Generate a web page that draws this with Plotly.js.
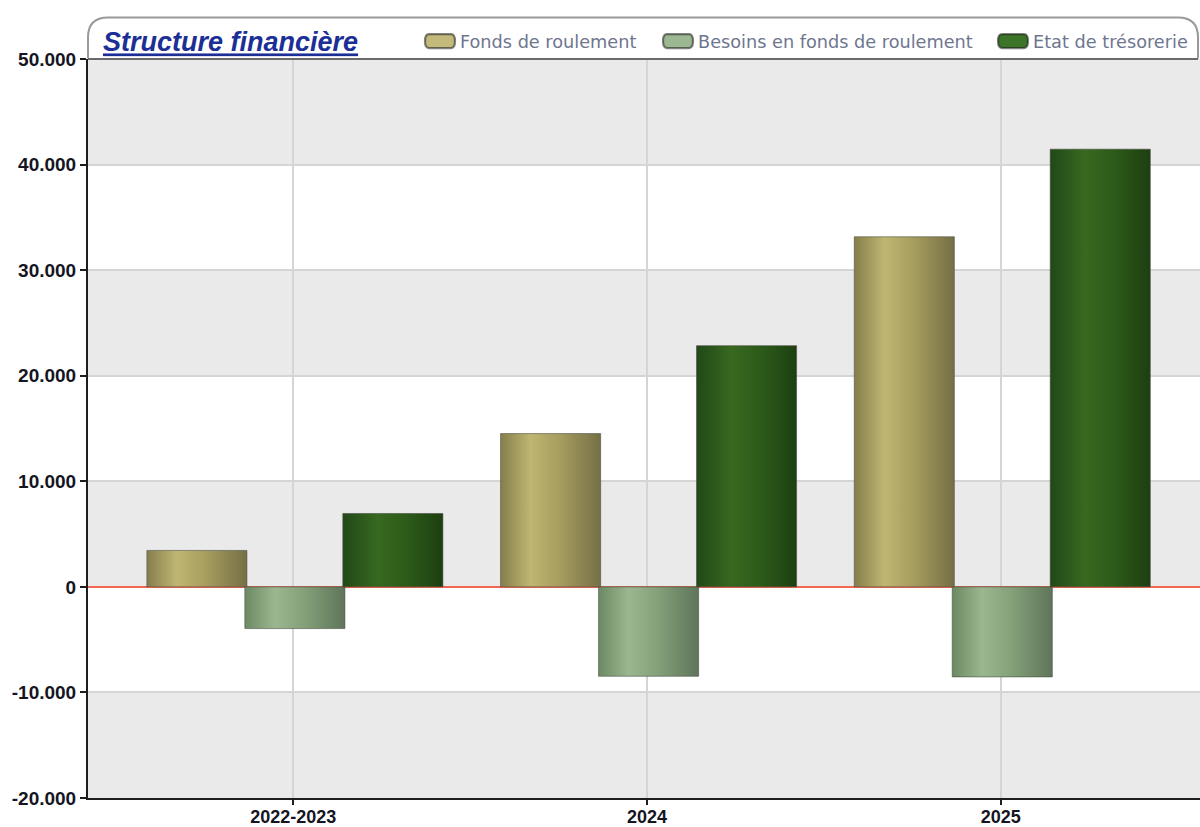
<!DOCTYPE html>
<html>
<head>
<meta charset="utf-8">
<script src="https://cdn.plot.ly/plotly-3.0.1.min.js"></script>
<style>html,body{margin:0;padding:0;background:#fff;}#chart{width:1200px;height:827px;}</style>
</head>
<body>
<div id="chart"></div>
<script>
// ---- data ----
const categories = ['2022-2023', '2024', '2025'];
const seriesNames = ['Fonds de roulement', 'Besoins en fonds de roulement', 'Etat de trésorerie'];
const fondsRoulement = [3450, 14520, 33160];
const besoinsFonds = [-3950, -8470, -8530];
const etatTresorerie = [6950, 22850, 41460];
const yTickVals = [-20000, -10000, 0, 10000, 20000, 30000, 40000, 50000];
const yTickText = ['-20.000', '-10.000', '0', '10.000', '20.000', '30.000', '40.000', '50.000'];
const chartTitle = 'Structure financière';

// ---- geometry helpers (pixels -> paper) ----
const W = 1200, H = 827, ML = 88, MR = 0, MT = 58.5, MB = 28.5;
const PW = W - ML - MR, PH = H - MT - MB;
const px = x => (x - ML) / PW;
const py = y => (H - MB - y) / PH;

const baseColors = ['#c2b97a', '#9cb892', '#3c7527'];
const grads = [
  [['0%', '#857e4c'], ['30%', '#bfb672'], ['60%', '#a59c5e'], ['100%', '#756f45']],
  [['0%', '#6d8963'], ['30%', '#9ab790'], ['60%', '#83a079'], ['100%', '#5f755a']],
  [['0%', '#224818'], ['35%', '#37691f'], ['65%', '#2c5a19'], ['100%', '#1d3f12']]
];
const barWidth = 0.283;
const offsets = [-0.414, -0.137, 0.140];
const values = [fondsRoulement, besoinsFonds, etatTresorerie];
const legendIds = ['legend', 'legend2', 'legend3'];
const legendX = [420, 658, 993];

const traces = values.map((v, i) => ({
  type: 'bar',
  name: seriesNames[i],
  x: categories,
  y: v,
  width: barWidth,
  offset: offsets[i],
  legend: legendIds[i],
  marker: { color: baseColors[i], line: { color: 'rgba(70,70,60,0.55)', width: 1 } },
  hoverinfo: 'none'
}));

// alternating hatched bands
const shapes = [];
for (let i = 0; i < yTickVals.length - 1; i++) {
  if (i % 2 === 0) {
    shapes.push({ type: 'rect', layer: 'below', xref: 'paper', yref: 'y', x0: 0, x1: 1,
      y0: yTickVals[i], y1: yTickVals[i + 1], fillcolor: '#eaeaea', line: { width: 0 } });
  }
}
// header frame
shapes.push({
  type: 'path', xref: 'paper', yref: 'paper', layer: 'above',
  path: `M${px(88)},${py(58)} L${px(88)},${py(37)} Q${px(88)},${py(17)} ${px(108)},${py(17)} ` +
        `L${px(1178)},${py(17)} Q${px(1198)},${py(17)} ${px(1198)},${py(37)} L${px(1198)},${py(58)}`,
  line: { color: '#9a9a9a', width: 2 }
});
// top border of plot area
shapes.push({ type: 'line', xref: 'paper', yref: 'paper', x0: 0, x1: px(1198), y0: 1, y1: 1,
  line: { color: '#6a6a6a', width: 2 }, layer: 'above' });

const legendBase = {
  orientation: 'h', xanchor: 'left', yanchor: 'middle', y: py(41),
  bgcolor: 'rgba(0,0,0,0)', borderwidth: 0,
  font: { family: 'DejaVu Sans', size: 17.7, color: '#6e7690' }
};

const tickFont = { family: 'Liberation Sans', size: 19, color: '#15151f', weight: 'bold' };

const layout = {
  width: W, height: H,
  margin: { l: ML, r: MR, t: MT, b: MB, pad: 0 },
  paper_bgcolor: '#ffffff', plot_bgcolor: '#ffffff',
  title: {
    text: '<b><i><u>' + chartTitle + '</u></i></b>',
    x: 103 / W, xref: 'container', xanchor: 'left',
    y: 1 - 42 / H, yref: 'container', yanchor: 'middle',
    font: { family: 'Liberation Sans', size: 27, color: '#1b2f96' }
  },
  showlegend: true,
  legend: Object.assign({}, legendBase, { x: px(legendX[0]) }),
  legend2: Object.assign({}, legendBase, { x: px(legendX[1]) }),
  legend3: Object.assign({}, legendBase, { x: px(legendX[2]) }),
  barmode: 'overlay',
  xaxis: {
    type: 'category', range: [-0.5804, 2.5635],
    showgrid: true, gridcolor: '#d5d5d5', gridwidth: 2,
    showline: true, linecolor: '#1e1e1e', linewidth: 2,
    ticks: 'outside', ticklen: 5, tickwidth: 2, tickcolor: '#1e1e1e',
    ticklabelstandoff: -4,
    tickfont: Object.assign({}, tickFont, { size: 18 }),
    fixedrange: true, zeroline: false
  },
  yaxis: {
    range: [-20000, 50000],
    tickmode: 'array', tickvals: yTickVals, ticktext: yTickText,
    showgrid: true, gridcolor: '#d5d5d5', gridwidth: 2,
    zeroline: true, zerolinecolor: '#f36652', zerolinewidth: 2,
    showline: true, linecolor: '#1e1e1e', linewidth: 2,
    ticks: 'outside', ticklen: 6, tickwidth: 2, tickcolor: '#1e1e1e',
    tickfont: tickFont,
    fixedrange: true
  },
  shapes: shapes,
  hovermode: false
};

const NS = 'http://www.w3.org/2000/svg';
function decorate(gd) {
  const svg = gd.querySelector('.main-svg');
  if (!svg) return;
  if (!document.getElementById('customGrads')) {
    const defs = document.createElementNS(NS, 'defs');
    defs.setAttribute('id', 'customGrads');
    grads.forEach((g, i) => {
      const lg = document.createElementNS(NS, 'linearGradient');
      lg.setAttribute('id', 'barGrad' + i);
      lg.setAttribute('x1', '0'); lg.setAttribute('y1', '0');
      lg.setAttribute('x2', '1'); lg.setAttribute('y2', '0');
      g.forEach(s => {
        const st = document.createElementNS(NS, 'stop');
        st.setAttribute('offset', s[0]); st.setAttribute('stop-color', s[1]);
        lg.appendChild(st);
      });
      defs.appendChild(lg);
    });
    svg.insertBefore(defs, svg.firstChild);
  }
  gd.querySelectorAll('.barlayer .trace').forEach((t, i) => {
    t.querySelectorAll('path').forEach(p => { p.style.fill = 'url(#barGrad' + (i % 3) + ')'; });
  });
  legendIds.forEach((id, i) => {
    const lg = gd.querySelector('g.' + id);
    if (!lg) return;
    lg.querySelectorAll('.legendpoints path').forEach(p => {
      p.setAttribute('d', 'M-11,-7H11Q15,-7 15,0Q15,7 11,7H-11Q-15,7 -15,0Q-15,-7 -11,-7Z');
      p.style.stroke = '#1c1c1c';
      p.style.strokeWidth = '2.2px';
      p.style.fill = baseColors[i];
    });
  });
}

const gd = document.getElementById('chart');
Plotly.newPlot(gd, traces, layout, { displayModeBar: false, staticPlot: true }).then(() => {
  decorate(gd);
  gd.on && gd.on('plotly_afterplot', () => decorate(gd));
});
</script>
</body>
</html>
